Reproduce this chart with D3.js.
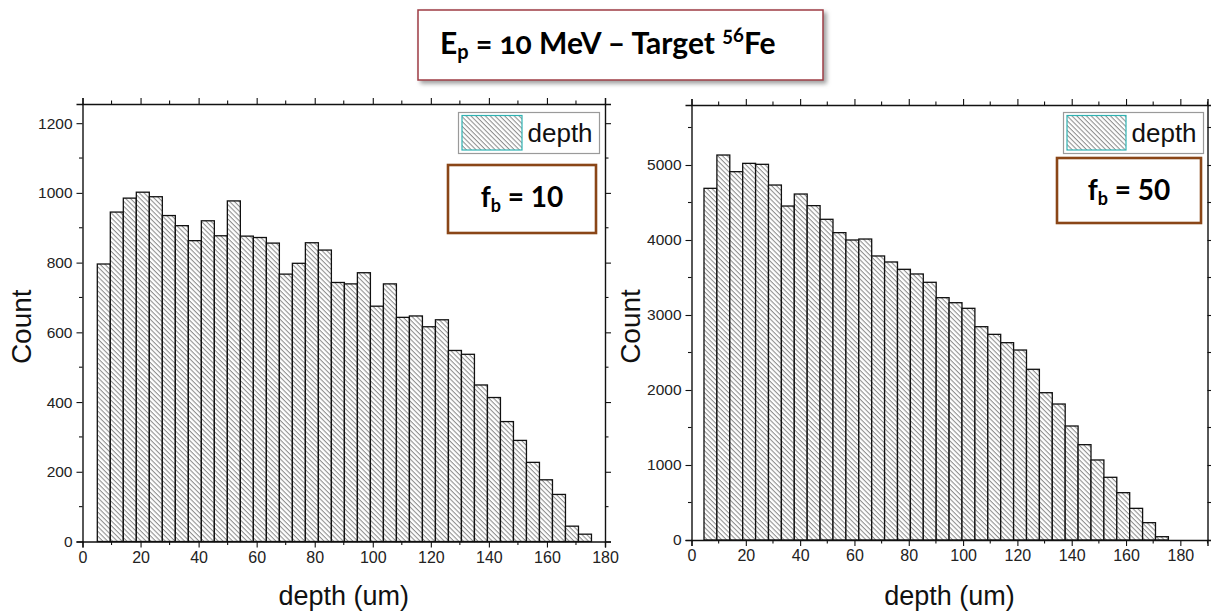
<!DOCTYPE html>
<html>
<head>
<meta charset="utf-8">
<script src="https://cdn.jsdelivr.net/npm/d3@7"></script>
<style>
  html, body { margin: 0; padding: 0; background: #fff; }
  svg { display: block; }
</style>
</head>
<body>
<svg id="chart" width="1211" height="613"></svg>
<script>
// Histogram counts of implantation depth, one bar per bin
const leftCounts = [796, 945, 985, 1002, 989, 935, 906, 863, 920, 877,
                    977, 876, 872, 856, 767, 798, 857, 836, 743, 739,
                    771, 675, 739, 643, 647, 616, 636, 548, 537, 449,
                    413, 344, 290, 227, 177, 135, 44, 21];
const rightCounts = [4689, 5133, 4911, 5022, 5009, 4733, 4453, 4613, 4458, 4276,
                     4098, 4000, 4013, 3787, 3707, 3609, 3547, 3436, 3231, 3164,
                     3089, 2844, 2742, 2631, 2533, 2276, 1964, 1813, 1520, 1271,
                     1067, 836, 631, 422, 231, 44];
// Bin layout (um)
const leftBinStart = 5.1, leftBinWidth = 4.48;
const rightBinStart = 4.6, rightBinWidth = 4.75;
// Axis ticks
const xTicks = [0, 20, 40, 60, 80, 100, 120, 140, 160, 180];
const leftYTicks = [0, 200, 400, 600, 800, 1000, 1200];
const rightYTicks = [0, 1000, 2000, 3000, 4000, 5000];
const leftFb = "10", rightFb = "50";
const seriesName = "depth";
const xTitle = "depth (um)", yTitle = "Count";

const svg = d3.select("#chart");
const defs = svg.append("defs");

// Diagonal hatch used by the bars and the legend swatch
const pat = defs.append("pattern")
  .attr("id", "hatch")
  .attr("patternUnits", "userSpaceOnUse")
  .attr("width", 3.4).attr("height", 3.4)
  .attr("patternTransform", "rotate(45)");
pat.append("rect").attr("width", 3.4).attr("height", 3.4).attr("fill", "#fff");
pat.append("line").attr("x1", 0).attr("y1", 0.6).attr("x2", 3.4).attr("y2", 0.6)
  .attr("stroke", "#707070").attr("stroke-width", 0.85);

const shadow = defs.append("filter").attr("id", "shadow")
  .attr("x", "-10%").attr("y", "-20%").attr("width", "130%").attr("height", "160%");
shadow.append("feDropShadow").attr("dx", 3).attr("dy", 3).attr("stdDeviation", 2)
  .attr("flood-color", "#777").attr("flood-opacity", 0.7);

function drawPanel(cfg) {
  const x = d3.scaleLinear().domain(cfg.xDomain).range([cfg.left, cfg.right]);
  const y = d3.scaleLinear().domain(cfg.yDomain).range([cfg.bottom, cfg.top]);
  const g = svg.append("g");

  // bars
  const bins = cfg.counts.map((c, i) => ({
    x0: cfg.binStart + i * cfg.binWidth,
    x1: cfg.binStart + (i + 1) * cfg.binWidth,
    c
  }));
  g.append("g").selectAll("rect").data(bins).join("rect")
    .attr("x", d => x(d.x0))
    .attr("y", d => y(d.c))
    .attr("width", d => x(d.x1) - x(d.x0))
    .attr("height", d => y(0) - y(d.c))
    .attr("fill", "url(#hatch)")
    .attr("stroke", "#111")
    .attr("stroke-width", 1.3);

  const tickCol = "#111";
  const font = "'Liberation Sans', Arial, sans-serif";

  // bottom and top axes
  const xMinor = d3.range(cfg.xDomain[0], cfg.xDomain[1] + 0.001, 10).filter(v => !xTicks.includes(v));
  const bottom = d3.axisBottom(x).tickValues(xTicks).tickSize(6).tickPadding(4).tickFormat(d3.format("d"));
  const gb = g.append("g").attr("transform", `translate(0,${cfg.bottom})`).call(bottom);
  gb.selectAll("text").attr("font-size", 16).attr("font-family", font).attr("fill", "#222");
  gb.append("g").selectAll("line").data(xMinor).join("line")
    .attr("x1", d => x(d)).attr("x2", d => x(d)).attr("y1", 0).attr("y2", 3.5).attr("stroke", tickCol);
  const top = d3.axisTop(x).tickValues(xTicks).tickSize(6).tickFormat("");
  const gt = g.append("g").attr("transform", `translate(0,${cfg.top})`).call(top);
  gt.append("g").selectAll("line").data(xMinor).join("line")
    .attr("x1", d => x(d)).attr("x2", d => x(d)).attr("y1", 0).attr("y2", -3.5).attr("stroke", tickCol);

  // left and right axes
  const yMinor = d3.range(0, cfg.yDomain[1], cfg.yMinorStep).filter(v => !cfg.yTicks.includes(v));
  const leftAx = d3.axisLeft(y).tickValues(cfg.yTicks).tickSize(6).tickPadding(4).tickFormat(d3.format("d"));
  const gl = g.append("g").attr("transform", `translate(${cfg.left},0)`).call(leftAx);
  gl.selectAll("text").attr("font-size", 15.5).attr("font-family", font).attr("fill", "#222");
  gl.append("g").selectAll("line").data(yMinor).join("line")
    .attr("y1", d => y(d)).attr("y2", d => y(d)).attr("x1", 0).attr("x2", -3.5).attr("stroke", tickCol);
  const rightAx = d3.axisRight(y).tickValues(cfg.yTicks).tickSize(6).tickFormat("");
  const gr = g.append("g").attr("transform", `translate(${cfg.right},0)`).call(rightAx);
  gr.append("g").selectAll("line").data(yMinor).join("line")
    .attr("y1", d => y(d)).attr("y2", d => y(d)).attr("x1", 0).attr("x2", 3.5).attr("stroke", tickCol);

  [gb, gt, gl, gr].forEach(a => {
    a.select(".domain").attr("stroke", tickCol).attr("stroke-width", 1.4);
    a.selectAll(".tick line").attr("stroke", tickCol).attr("stroke-width", 1.1);
    a.selectAll("g > line").attr("stroke-width", 1.1);
  });

  // axis titles
  g.append("text")
    .attr("x", (cfg.left + cfg.right) / 2).attr("y", 605)
    .attr("text-anchor", "middle").attr("font-family", font).attr("font-size", 27)
    .attr("fill", "#111").text(xTitle);
  g.append("text")
    .attr("transform", `translate(${cfg.left - 52},${(cfg.top + cfg.bottom) / 2 + 4}) rotate(-90)`)
    .attr("text-anchor", "middle").attr("font-family", font).attr("font-size", 28)
    .attr("fill", "#111").text(yTitle);

  // legend
  const L = cfg.legend;
  g.append("rect").attr("x", L.x).attr("y", L.y).attr("width", L.w).attr("height", L.h)
    .attr("fill", "#fff").attr("stroke", "#9a9a9a").attr("stroke-width", 1.2);
  g.append("rect").attr("x", L.x + 3.5).attr("y", L.y + 3).attr("width", L.sw).attr("height", L.h - 6.5)
    .attr("fill", "url(#hatch)").attr("stroke", "#2fb2b2").attr("stroke-width", 1.2);
  g.append("text").attr("x", L.x + L.sw + 9).attr("y", L.y + 29)
    .attr("font-family", font).attr("font-size", 26).attr("fill", "#111").text(seriesName);

  // fb annotation box
  const B = cfg.fbBox;
  g.append("rect").attr("x", B.x).attr("y", B.y).attr("width", B.w).attr("height", B.h)
    .attr("fill", "#fff").attr("stroke", "#8a4617").attr("stroke-width", 2.6);
  const t = g.append("text").attr("x", B.x + B.w / 2).attr("y", B.base)
    .attr("text-anchor", "middle").attr("font-family", "Lato, 'Open Sans', sans-serif")
    .attr("font-weight", 700).attr("font-size", 28).attr("fill", "#000");
  t.append("tspan").text("f");
  t.append("tspan").attr("font-size", 18).attr("dy", 5).text("b");
  t.append("tspan").attr("dy", -5).text(" = " + cfg.fb);
}

drawPanel({
  counts: leftCounts, binStart: leftBinStart, binWidth: leftBinWidth,
  xDomain: [0, 180], yDomain: [0, 1255], yTicks: leftYTicks, yMinorStep: 100,
  left: 82.5, right: 605, top: 104, bottom: 541.5,
  legend: { x: 458.5, y: 112.5, w: 141, h: 41, sw: 60 },
  fbBox: { x: 448, y: 165, w: 148, h: 68, base: 207 },
  fb: leftFb
});

drawPanel({
  counts: rightCounts, binStart: rightBinStart, binWidth: rightBinWidth,
  xDomain: [0, 190], yDomain: [0, 5800], yTicks: rightYTicks, yMinorStep: 500,
  left: 691.5, right: 1207.5, top: 105, bottom: 540,
  legend: { x: 1063.5, y: 112.5, w: 140, h: 41, sw: 59 },
  fbBox: { x: 1057, y: 158, w: 144, h: 65, base: 200 },
  fb: rightFb
});

// heading box
const hb = svg.append("g");
hb.append("rect").attr("x", 418).attr("y", 10).attr("width", 405).attr("height", 70)
  .attr("fill", "#fff").attr("stroke", "#9e3c44").attr("stroke-width", 1.5)
  .attr("filter", "url(#shadow)");
const ht = hb.append("text").attr("x", 440).attr("y", 54)
  .attr("font-family", "Lato, 'Open Sans', sans-serif").attr("font-weight", 700)
  .attr("font-size", 30).attr("fill", "#000")
  .style("font-variant-numeric", "oldstyle-nums");
ht.append("tspan").text("E");
ht.append("tspan").attr("font-size", 20).attr("dy", 5).text("p");
ht.append("tspan").attr("dy", -5).text(" = 10 MeV \u2013 Target ");
ht.append("tspan").attr("font-size", 20).attr("dy", -12).text("56");
ht.append("tspan").attr("dy", 12).text("Fe");
</script>
</body>
</html>
